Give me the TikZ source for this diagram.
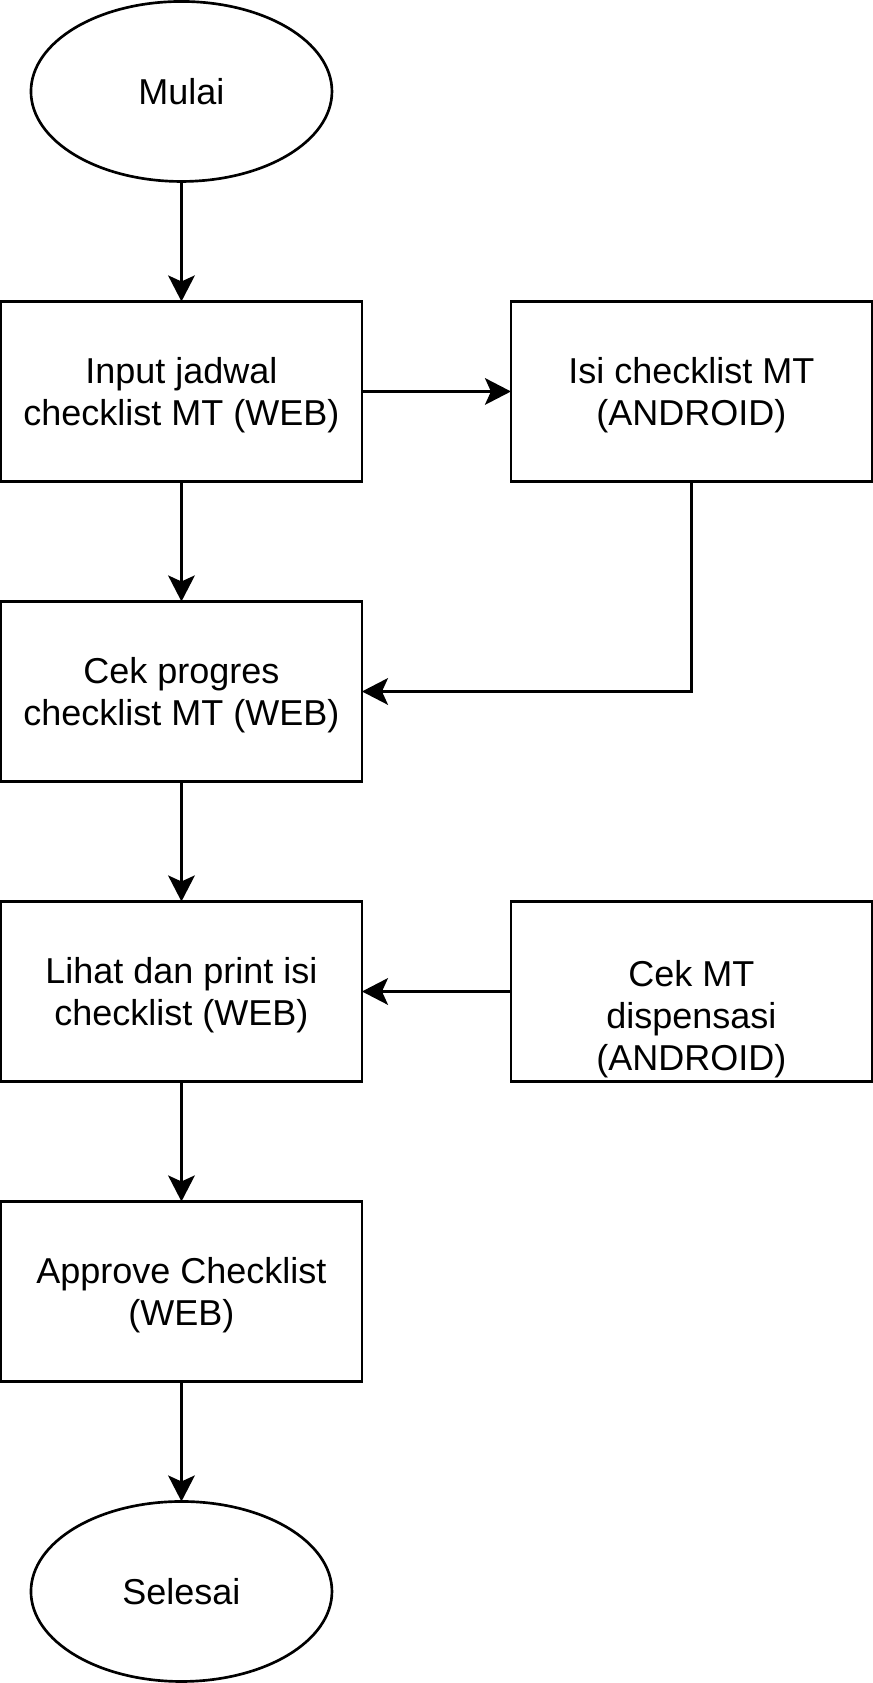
\documentclass[tikz,border=0pt]{standalone}
\usepackage{fontspec}
\setmainfont{Liberation Sans}
\usetikzlibrary{positioning,shapes.geometric,arrows.meta}
\tikzset{
  proses/.style={draw,line width=2pt,minimum width=270.75pt,minimum height=135pt,align=center,text depth=0pt,inner sep=0pt,outer sep=0pt},
  terminal/.style={draw,ellipse,line width=2pt,minimum width=225.75pt,minimum height=135pt,inner sep=0pt,outer sep=0pt},
  >={Stealth[length=19.5pt,width=20pt,inset=4.5pt]}
}
\begin{document}
\begin{tikzpicture}[font=\fontsize{27pt}{31.5pt}\selectfont,node distance=90pt and 111.75pt,line width=2pt]
\useasboundingbox (0,0) rectangle (654.75pt,-1262.25pt);
\node[terminal] (mulai) at (136.1pt,-68.6pt) {Mulai};
\node[proses,below=of mulai] (input) {Input jadwal\\checklist MT (WEB)};
\node[proses,right=of input] (isi) {Isi checklist MT\\(ANDROID)};
\node[proses,below=of input] (cekprog) {Cek progres\\checklist MT (WEB)};
\node[proses,below=of cekprog] (lihat) {Lihat dan print isi\\checklist (WEB)};
\node[proses,right=of lihat,label={[name=cekdisplbl,align=center,yshift=-21pt]center:Cek MT\\dispensasi\\(ANDROID)}] (cekdisp) {};
\node[proses,below=of lihat] (approve) {Approve Checklist\\(WEB)};
\node[terminal,below=of approve] (selesai) {Selesai};
\draw [->] (mulai) -- (input);
\draw [->] (input) -- (isi);
\draw [->] (input) -- (cekprog);
\draw [->] (isi.south) |- (cekprog.east);
\draw [->] (cekprog) -- (lihat);
\draw [->] (cekdisp) -- (lihat);
\draw [->] (lihat) -- (approve);
\draw [->] (approve) -- (selesai);
\end{tikzpicture}
\end{document}
